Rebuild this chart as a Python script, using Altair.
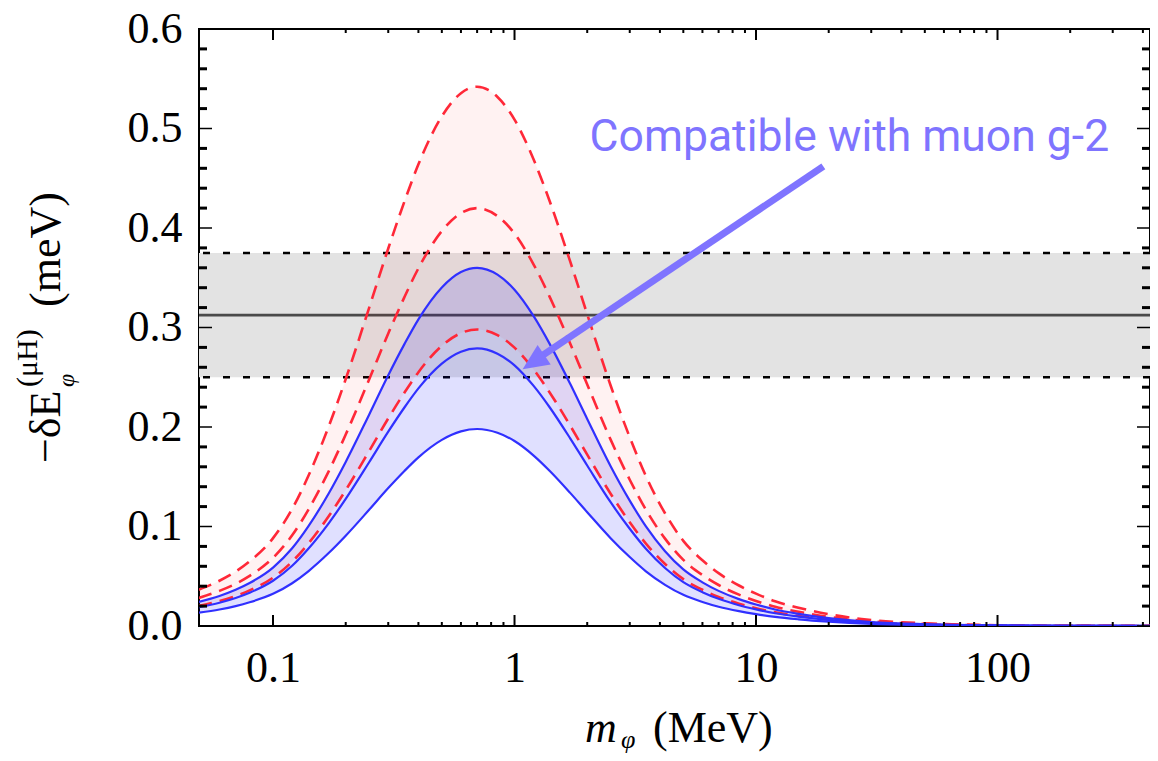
import altair as alt
import pandas as pd

# ---------------- data ----------------
m_vals = [0.049, 0.06, 0.07, 0.08, 0.1, 0.12, 0.14, 0.17, 0.2, 0.25,
          0.3, 0.35, 0.4, 0.5, 0.6, 0.7, 0.85, 1.0, 1.2, 1.4,
          1.7, 2.0, 2.5, 3.0, 3.5, 4.2, 5, 6, 7, 8.5,
          10, 12, 15, 20, 30, 50, 100, 200, 450]

red_upper = [0.0363, 0.0455, 0.0547, 0.0650, 0.0883, 0.1176, 0.1507, 0.2005, 0.2482, 0.3198,
             0.3794, 0.4266, 0.4640, 0.5122, 0.5355, 0.542, 0.5317, 0.5089, 0.4688, 0.4266,
             0.3664, 0.3133, 0.2417, 0.1897, 0.1507, 0.1133, 0.0856, 0.0661, 0.0531, 0.0407,
             0.0325, 0.0249, 0.0184, 0.0119, 0.0060, 0.0027, 0.0008, 0.0002, 0.0001]
red_middle = [0.0281, 0.0353, 0.0424, 0.0504, 0.0685, 0.0911, 0.1168, 0.1554, 0.1924, 0.2478,
              0.2940, 0.3305, 0.3595, 0.3969, 0.4150, 0.420, 0.4120, 0.3944, 0.3633, 0.3305,
              0.2839, 0.2428, 0.1873, 0.1470, 0.1168, 0.0878, 0.0664, 0.0512, 0.0412, 0.0315,
              0.0252, 0.0193, 0.0143, 0.0092, 0.0046, 0.0021, 0.0006, 0.00017, 0.00004]
red_lower = [0.0200, 0.0250, 0.0301, 0.0358, 0.0486, 0.0647, 0.0828, 0.1103, 0.1365, 0.1758,
             0.2086, 0.2345, 0.2551, 0.2816, 0.2944, 0.298, 0.2923, 0.2798, 0.2578, 0.2345,
             0.2014, 0.1722, 0.1329, 0.1043, 0.0828, 0.0623, 0.0471, 0.0364, 0.0292, 0.0224,
             0.0179, 0.0137, 0.0101, 0.0066, 0.0033, 0.0015, 0.00045, 0.00012, 0.00003]
blue_upper = [0.0241, 0.0302, 0.0364, 0.0432, 0.0587, 0.0781, 0.1001, 0.1332, 0.1649, 0.2124,
              0.2520, 0.2833, 0.3082, 0.3402, 0.3557, 0.360, 0.3532, 0.3380, 0.3114, 0.2833,
              0.2434, 0.2081, 0.1606, 0.1260, 0.1001, 0.0752, 0.0569, 0.0439, 0.0353, 0.0270,
              0.0216, 0.0166, 0.0122, 0.0079, 0.0040, 0.0018, 0.00054, 0.00014, 0.00004]
blue_middle = [0.0187, 0.0234, 0.0282, 0.0335, 0.0455, 0.0605, 0.0776, 0.1032, 0.1278, 0.1646,
               0.1953, 0.2196, 0.2388, 0.2637, 0.2757, 0.279, 0.2737, 0.2620, 0.2413, 0.2196,
               0.1886, 0.1613, 0.1244, 0.0977, 0.0776, 0.0583, 0.0441, 0.0340, 0.0273, 0.0209,
               0.0167, 0.0128, 0.0095, 0.0061, 0.0031, 0.0014, 0.00042, 0.00011, 0.00003]
blue_lower = [0.0133, 0.0166, 0.0200, 0.0238, 0.0323, 0.0430, 0.0550, 0.0733, 0.0907, 0.1168,
              0.1386, 0.1558, 0.1695, 0.1871, 0.1956, 0.198, 0.1942, 0.1859, 0.1713, 0.1558,
              0.1338, 0.1144, 0.0883, 0.0693, 0.0550, 0.0414, 0.0313, 0.0242, 0.0194, 0.0149,
              0.0119, 0.0091, 0.0067, 0.0044, 0.0022, 0.0010, 0.0003, 0.00008, 0.00002]

band_low = [0.25]
band_high = [0.375]
band_center = [0.3125]

y_major = [0.0, 0.1, 0.2, 0.3, 0.4, 0.5, 0.6]
y_minor = [0.02, 0.04, 0.06, 0.08, 0.12, 0.14, 0.16, 0.18, 0.22, 0.24, 0.26, 0.28,
           0.32, 0.34, 0.36, 0.38, 0.42, 0.44, 0.46, 0.48, 0.52, 0.54, 0.56, 0.58]
x_major = [0.1, 1, 10, 100]
x_minor = [0.2, 0.3, 0.4, 0.5, 0.6, 0.7, 0.8, 0.9, 2, 3, 4, 5, 6, 7, 8, 9,
           20, 30, 40, 50, 60, 70, 80, 90, 200, 300, 400]

# annotation (data coordinates)
note_text = ["Compatible with muon g-2"]
note_x = [2.045]
note_y = [0.477]
arrow_from = [19.0, 0.462]
arrow_to = [1.2, 0.266]
arrow_tip = [1.08, 0.258]

# ---------------- layout ----------------
W, H = 951, 597
XMIN, XMAX = 0.04937, 428
SERIF = "Liberation Serif"

xscale = alt.Scale(type="log", domain=[XMIN, XMAX], nice=False)
yscale = alt.Scale(domain=[0, 0.6], nice=False, zero=False)

xaxis = alt.Axis(values=x_major,
                 labelExpr="datum.value < 1 ? format(datum.value, '.1f') : format(datum.value, 'd')",
                 ticks=False, tickSize=0, domain=False, grid=False, labelFont=SERIF,
                 labelFontSize=44, labelColor="black", labelPadding=20, title=None,
                 labelFlush=False, labelOverlap=False)
yaxis = alt.Axis(values=y_major, format=".1f", ticks=False, tickSize=0, domain=False,
                 grid=False, labelFont=SERIF, labelFontSize=44, labelColor="black",
                 labelPadding=17, title=None, labelFlush=False, labelOverlap=False)


def X(f):
    return alt.X(f, type="quantitative", scale=xscale, axis=xaxis)


def Y(f):
    return alt.Y(f, type="quantitative", scale=yscale, axis=yaxis)


wide = pd.DataFrame({"m": m_vals, "r_hi": red_upper, "r_lo": red_lower,
                     "b_hi": blue_upper, "b_lo": blue_lower})
red_long = pd.concat([
    pd.DataFrame({"m": m_vals, "v": red_upper, "curve": "r1"}),
    pd.DataFrame({"m": m_vals, "v": red_middle, "curve": "r2"}),
    pd.DataFrame({"m": m_vals, "v": red_lower, "curve": "r3"}),
])
blue_long = pd.concat([
    pd.DataFrame({"m": m_vals, "v": blue_upper, "curve": "b1"}),
    pd.DataFrame({"m": m_vals, "v": blue_middle, "curve": "b2"}),
    pd.DataFrame({"m": m_vals, "v": blue_lower, "curve": "b3"}),
])

band = alt.Chart(pd.DataFrame({"lo": band_low, "hi": band_high})).mark_rect(
    color="#e3e3e3").encode(y=Y("lo"), y2=alt.Y2("hi"), x=alt.value(0), x2=alt.value(W))
band_mid = alt.Chart(pd.DataFrame({"c": band_center})).mark_rule(
    color="#4a4a4a", strokeWidth=2.8).encode(y=Y("c"))
band_edges = alt.Chart(pd.DataFrame({"v": band_low + band_high})).mark_rule(
    color="black", strokeWidth=2.5, strokeDash=[7, 13]).encode(y=Y("v"))

red_fill = alt.Chart(wide).mark_area(color="#ff0000", opacity=0.05, interpolate="monotone",
                                     clip=True).encode(x=X("m"), y=Y("r_hi"), y2=alt.Y2("r_lo"))
blue_fill = alt.Chart(wide).mark_area(color="#0000ff", opacity=0.12, interpolate="monotone",
                                      clip=True).encode(x=X("m"), y=Y("b_hi"), y2=alt.Y2("b_lo"))
red_lines = alt.Chart(red_long).mark_line(color="#ff2838", strokeWidth=2.6, strokeDash=[14, 8],
                                          interpolate="monotone", clip=True).encode(
    x=X("m"), y=Y("v"), detail="curve:N")
blue_lines = alt.Chart(blue_long).mark_line(color="#3030ff", strokeWidth=2.2,
                                            interpolate="monotone", clip=True).encode(
    x=X("m"), y=Y("v"), detail="curve:N")

# frame ticks pointing inward
ymaj = pd.DataFrame({"v": y_major})
ymin = pd.DataFrame({"v": y_minor})
xmaj = pd.DataFrame({"v": x_major})
xmin = pd.DataFrame({"v": x_minor})
ticks = [
    alt.Chart(ymaj).mark_rule(color="black", strokeWidth=1.5).encode(y=Y("v"), x=alt.value(0), x2=alt.value(13)),
    alt.Chart(ymaj).mark_rule(color="black", strokeWidth=1.5).encode(y=Y("v"), x=alt.value(W), x2=alt.value(W - 13)),
    alt.Chart(ymin).mark_rule(color="black", strokeWidth=3).encode(y=Y("v"), x=alt.value(0), x2=alt.value(8)),
    alt.Chart(ymin).mark_rule(color="black", strokeWidth=3).encode(y=Y("v"), x=alt.value(W), x2=alt.value(W - 8)),
    alt.Chart(xmaj).mark_rule(color="black", strokeWidth=2).encode(x=X("v"), y=alt.value(H), y2=alt.value(H - 11)),
    alt.Chart(xmaj).mark_rule(color="black", strokeWidth=2).encode(x=X("v"), y=alt.value(0), y2=alt.value(11)),
    alt.Chart(xmin).mark_rule(color="black", strokeWidth=2).encode(x=X("v"), y=alt.value(H), y2=alt.value(H - 4)),
    alt.Chart(xmin).mark_rule(color="black", strokeWidth=2).encode(x=X("v"), y=alt.value(0), y2=alt.value(4)),
]

NOTE_COLOR = "#7f74ff"
arrow_line = alt.Chart(pd.DataFrame({"x1": [arrow_from[0]], "y1": [arrow_from[1]],
                                     "x2": [arrow_to[0]], "y2": [arrow_to[1]]})).mark_rule(
    color=NOTE_COLOR, strokeWidth=7).encode(x=X("x1"), y=Y("y1"), x2=alt.X2("x2"), y2=alt.Y2("y2"))
arrow_head = alt.Chart(pd.DataFrame({"x": [arrow_tip[0]], "y": [arrow_tip[1]]})).mark_point(
    shape="M0,0 L0.45,1 L-0.45,1 Z", size=2704, angle=236, filled=True, opacity=1,
    color=NOTE_COLOR, strokeWidth=0).encode(x=X("x"), y=Y("y"))
note = alt.Chart(pd.DataFrame({"t": note_text, "x": note_x, "y": note_y})).mark_text(
    font="Roboto", fontSize=44.5, color=NOTE_COLOR, align="left",
    baseline="alphabetic").encode(x=X("x"), y=Y("y"), text="t:N")


def label(t, x, y, size, angle=0, italic=False):
    return alt.Chart(pd.DataFrame({"t": [t]})).mark_text(
        font=SERIF, fontSize=size, color="black", align="left", baseline="alphabetic",
        angle=angle, fontStyle="italic" if italic else "normal").encode(
        text="t:N", x=alt.value(x), y=alt.value(y))


titles = [
    # y axis title (rotated)
    label("\u2212\u03b4E", -139, 434, 44, angle=270),
    label("\u03c6", -125, 358, 24, angle=270, italic=True),
    label("(\u03bcH)", -162, 358, 30, angle=270),
    label("(meV)", -139, 278, 44, angle=270),
    # x axis title
    label("m", 386, 713, 44, italic=True),
    label("\u03c6", 422, 719, 26, italic=True),
    label("(MeV)", 454, 713, 44),
]

chart = alt.layer(
    band, band_mid, band_edges, red_fill, blue_fill, red_lines, blue_lines,
    *ticks, arrow_line, arrow_head, note, *titles
).properties(
    width=W, height=H,
    padding={"left": 191, "top": 21, "right": 0, "bottom": 127},
    autosize=alt.AutoSizeParams(type="none"),
    background="white",
).configure_view(stroke="black", strokeWidth=2)

chart.save("out.html", embed_options={"renderer": "svg", "actions": False})
